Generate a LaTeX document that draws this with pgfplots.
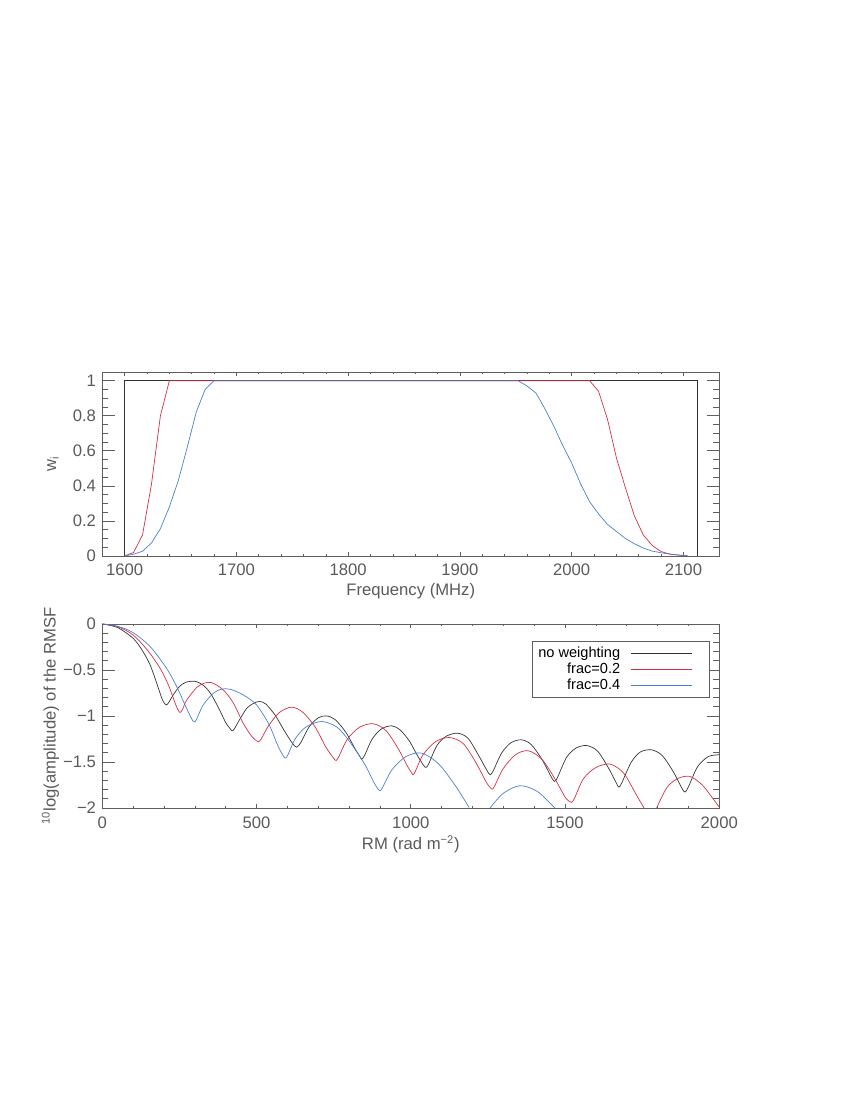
\documentclass[border=0pt]{standalone}
\usepackage{fontspec}
\setmainfont{Liberation Sans}
\usepackage{pgfplots}
\pgfplotsset{compat=1.18}

\definecolor{rmred}{RGB}{212,48,68}
\definecolor{rmblue}{RGB}{72,128,208}
\definecolor{axgray}{RGB}{95,95,95}
\definecolor{txtgray}{RGB}{90,90,90}

\pgfplotsset{
  idl/.style={
    scale only axis, width=444.2pt, height=132.5pt,
    anchor=south west,
    axis line style={axgray, line width=0.5pt},
    tick style={axgray, line width=0.45pt},
    tick align=inside,
    xtick style={/pgfplots/major tick length=2.7pt, /pgfplots/minor tick length=1.4pt},
    ytick style={/pgfplots/major tick length=8.9pt, /pgfplots/minor tick length=4.4pt},
    ticklabel style={font=\fontsize{12}{12}\selectfont, text=txtgray},
    label style={font=\fontsize{12}{12}\selectfont, text=txtgray},
    xticklabel style={yshift=-2.5pt},
    yticklabel style={xshift=-1pt},
    /pgf/number format/assume math mode=true,
    /pgf/number format/set thousands separator={},
    every axis plot/.append style={line width=0.5pt},
  },
}

\begin{document}
\begin{tikzpicture}
\path[use as bounding box] (0,0) rectangle (612pt,792pt);

% weights
\begin{axis}[idl, at={(73.66pt,391.7pt)},
  xmin=1580, xmax=2132, ymin=0, ymax=1.05,
  xtick={1600,1700,...,2100}, minor x tick num=4,
  ytick={0,0.2,...,1}, minor y tick num=3,
  yticklabels={0,0.2,0.4,0.6,0.8,1},
  xlabel={Frequency (MHz)}, ylabel={w\textsubscript{i}},
  xlabel style={at={(axis description cs:0.5,-0.19)}, anchor=center},
  ylabel style={at={(axis description cs:-0.08,0.5)}, anchor=center},
]
\addplot[color=black!80] coordinates {(1600,0)(1600,1)(2112,1)(2112,0)};
\addplot[color=rmred] coordinates {
 (1600,0)(1608,0.02)(1616,0.12)(1624,0.41)(1632,0.80)(1640,1)
 (2016,1)(2024,0.94)(2032,0.78)(2040,0.56)(2048,0.39)(2056,0.23)
 (2064,0.12)(2072,0.06)(2080,0.025)(2088,0.01)(2096,0.005)(2104,0)};
\addplot[color=rmblue] coordinates {
 (1600,0)(1608,0.01)(1616,0.027)(1624,0.074)(1632,0.156)(1640,0.28)
 (1648,0.43)(1656,0.62)(1664,0.82)(1672,0.95)(1680,1)
 (1952,1)(1960,0.97)(1968,0.93)(1976,0.84)(1984,0.74)(1992,0.63)
 (2000,0.53)(2008,0.41)(2016,0.31)(2024,0.24)(2032,0.18)(2040,0.14)
 (2048,0.10)(2056,0.07)(2064,0.045)(2072,0.028)(2080,0.018)
 (2088,0.011)(2096,0.005)(2104,0)};
\end{axis}

% RMSF
\begin{axis}[idl, at={(73.66pt,210.24pt)},
  xmin=0, xmax=2000, ymin=-2, ymax=0,
  xtick={0,500,...,2000}, minor x tick num=4,
  ytick={-2,-1.5,...,0}, minor y tick num=4,
  yticklabels={−2,−1.5,−1,−0.5,0},
  xlabel={RM (rad m\textsuperscript{−2})},
  ylabel={\textsuperscript{10}log(amplitude) of the RMSF},
  xlabel style={at={(axis description cs:0.5,-0.2)}, anchor=center},
  ylabel style={at={(axis description cs:-0.084,0.5)}, anchor=center},
  unbounded coords=jump,
  legend style={at={(0.984,0.908)}, anchor=north east, draw=axgray,
    font=\fontsize{10.5}{12}\selectfont,
    inner xsep=2pt, inner ysep=2pt, row sep=-1.5pt},
  legend cell align=right,
  legend plot pos=right,
  legend image code/.code={\path[draw=none, fill=none] (0pt,-2pt) rectangle (60pt,2pt);
    \draw[#1] (6pt,0pt) -- (50pt,0pt);},
]
\addplot[color=black!80, smooth] coordinates {
 (0,0)(50,-0.04)(100,-0.156)(130,-0.29)(155,-0.445)(176,-0.64)(192,-0.80)
 (200,-0.855)(208,-0.879)(216,-0.85)(230,-0.77)(250,-0.68)(270,-0.635)
 (298,-0.622)(325,-0.66)(350,-0.75)(375,-0.90)(400,-1.07)(415,-1.14)
 (421,-1.161)(428,-1.14)(445,-1.04)(470,-0.91)(495,-0.855)(511,-0.843)
 (530,-0.87)(560,-0.99)(590,-1.16)(615,-1.29)(630,-1.339)(645,-1.28)
 (670,-1.12)(700,-1.02)(727,-0.999)(755,-1.04)(790,-1.18)(820,-1.36)
 (835,-1.44)(841,-1.469)(850,-1.43)(875,-1.25)(905,-1.14)(938,-1.107)
 (965,-1.15)(995,-1.27)(1020,-1.42)(1040,-1.53)(1049,-1.559)(1058,-1.52)
 (1085,-1.32)(1115,-1.22)(1152,-1.187)(1185,-1.24)(1215,-1.40)(1245,-1.58)
 (1257,-1.639)(1268,-1.59)(1295,-1.40)(1325,-1.29)(1359,-1.259)(1390,-1.31)
 (1425,-1.47)(1455,-1.66)(1467,-1.711)(1478,-1.65)(1505,-1.45)(1535,-1.35)
 (1570,-1.321)(1605,-1.38)(1640,-1.56)(1665,-1.72)(1675,-1.773)(1685,-1.72)
 (1715,-1.50)(1745,-1.39)(1781,-1.368)(1815,-1.43)(1850,-1.60)(1878,-1.78)
 (1889,-1.827)(1900,-1.77)(1930,-1.55)(1965,-1.44)(2000,-1.422)};
\addlegendentry{no weighting}
\addplot[color=rmred, smooth] coordinates {
 (0,0)(50,-0.03)(100,-0.12)(150,-0.30)(187,-0.48)(214,-0.66)(236,-0.86)
 (245,-0.93)(252,-0.962)(260,-0.93)(273,-0.83)(306,-0.69)(330,-0.645)
 (354,-0.637)(392,-0.716)(425,-0.86)(457,-1.08)(484,-1.22)(500,-1.27)
 (506,-1.28)(515,-1.25)(540,-1.10)(575,-0.96)(614,-0.904)(650,-0.96)
 (690,-1.12)(725,-1.34)(750,-1.46)(758,-1.483)(767,-1.44)(795,-1.25)
 (835,-1.12)(879,-1.085)(920,-1.16)(960,-1.36)(990,-1.55)(1003,-1.62)
 (1008,-1.639)(1015,-1.60)(1040,-1.42)(1080,-1.28)(1125,-1.234)(1170,-1.30)
 (1210,-1.50)(1245,-1.72)(1258,-1.78)(1264,-1.795)(1272,-1.76)(1300,-1.57)
 (1340,-1.42)(1381,-1.378)(1425,-1.47)(1465,-1.67)(1500,-1.88)(1515,-1.93)
 (1521,-1.939)(1530,-1.90)(1560,-1.68)(1600,-1.56)(1646,-1.523)(1690,-1.62)
 (1730,-1.85)(1756,-2.0)(1776,nan)(1797,-2.0)(1830,-1.78)(1865,-1.68)
 (1905,-1.657)(1945,-1.75)(1980,-1.90)(2000,-1.99)};
\addlegendentry{frac=0.2}
\addplot[color=rmblue, smooth] coordinates {
 (0,0)(50,-0.025)(100,-0.094)(155,-0.246)(208,-0.48)(241,-0.68)(268,-0.879)
 (285,-1.00)(293,-1.05)(298,-1.064)(305,-1.04)(327,-0.88)(360,-0.753)
 (385,-0.71)(414,-0.709)(457,-0.771)(500,-0.88)(540,-1.09)(570,-1.33)
 (588,-1.44)(594,-1.458)(602,-1.42)(625,-1.25)(660,-1.12)(711,-1.06)
 (760,-1.12)(800,-1.27)(850,-1.52)(880,-1.72)(895,-1.80)(900,-1.813)
 (908,-1.78)(940,-1.58)(985,-1.44)(1035,-1.404)(1090,-1.52)(1145,-1.76)
 (1189,-1.994)(1222,nan)(1257,-2.0)(1300,-1.84)(1354,-1.758)(1410,-1.82)
 (1467,-2.0)};
\addlegendentry{frac=0.4}
\end{axis}
\end{tikzpicture}
\end{document}
